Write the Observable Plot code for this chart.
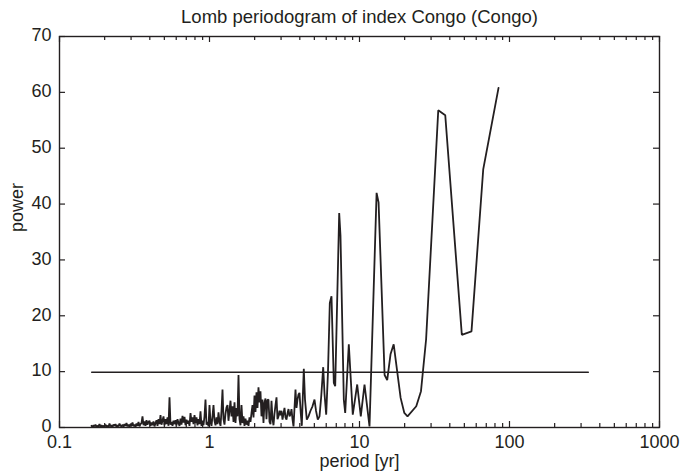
<!DOCTYPE html>
<html><head><meta charset="utf-8">
<script src="https://cdn.jsdelivr.net/npm/d3@7"></script>
<script src="https://cdn.jsdelivr.net/npm/@observablehq/plot@0.6"></script>
<style>body{margin:0;background:#fff}</style>
</head><body><div id="chart"></div>
<script>
const titleText = "Lomb periodogram of index Congo (Congo)";
const xLabel = "period [yr]";
const yLabel = "power";

// periods [yr] of the Lomb periodogram
const periods = [
 0.1634,0.1659,0.1685,0.1711,0.1737,0.1764,0.1791,0.1819,0.1847,0.1876,0.1905,0.1935,0.1965,0.1995,0.2026,0.2057,0.2089,0.2121,0.2154,0.2187,
 0.2221,0.2255,0.2290,0.2326,0.2362,0.2398,0.2435,0.2473,0.2512,0.2551,0.2590,0.2630,0.2671,0.2712,0.2754,0.2797,0.2840,0.2884,0.2929,0.2974,
 0.3020,0.3067,0.3115,0.3162,0.3211,0.3261,0.3311,0.3363,0.3415,0.3467,0.3521,0.3575,0.3631,0.3687,0.3744,0.3802,0.3861,0.3921,0.3981,0.4043,
 0.4105,0.4169,0.4233,0.4299,0.4365,0.4433,0.4501,0.4571,0.4642,0.4714,0.4786,0.4860,0.4936,0.5012,0.5090,0.5168,0.5248,0.5330,0.5412,0.5496,
 0.5581,0.5667,0.5754,0.5843,0.5934,0.6026,0.6119,0.6213,0.6310,0.6407,0.6506,0.6607,0.6709,0.6813,0.6918,0.7025,0.7134,0.7244,0.7356,0.7470,
 0.7586,0.7703,0.7822,0.7943,0.8066,0.8190,0.8317,0.8445,0.8577,0.8709,0.8844,0.8981,0.9120,0.9261,0.9404,0.9550,0.9698,0.9848,1.0000,
 1.0155,1.0312,1.0471,1.0633,1.0798,1.0965,1.1134,1.1307,1.1482,1.1659,1.1840,1.2023,1.2209,1.2397,1.2589,1.2784,1.2982,1.3183,1.3386,1.3594,
 1.3804,1.4017,1.4234,1.4454,1.4678,1.4905,1.5136,1.5370,1.5608,1.5849,1.6094,1.6343,1.6596,1.6853,1.7113,1.7378,1.7647,1.7920,1.8197,1.8478,
 1.8764,1.9055,1.9349,1.9649,1.9953,2.026,2.057,2.089,2.121,2.154,2.187,2.221,2.255,2.290,2.326,2.362,2.398,2.435,2.473,2.512,
 2.551,2.590,2.630,2.671,2.712,2.754,2.797,2.840,2.884,2.929,2.974,3.020,3.067,3.115,3.162,3.211,3.261,3.311,3.363,3.415,
 3.467,3.521,3.575,3.631,3.687,3.744,3.802,3.861,3.921,3.981,
 4.06,4.124,4.253,4.332,4.453,4.571,4.713,4.860,5.012,5.129,5.272,5.412,5.555,5.728,5.845,5.998,6.166,6.339,6.506,6.741,
 6.887,7.322,7.470,7.859,8.030,8.486,9.02,9.654,10.2,10.80,11.66,
 13.0,13.4,14.7,15.3,16.1,16.9,18.8,19.9,20.9,23.9,25.7,27.8,33.5,37.3,48.1,55.8,66.8,84.5
];
const power = [
 0.3,0.1,0.4,0.2,0.5,0.1,0.3,0.2,0.6,0.1,0.4,0.2,0.3,0.1,0.5,0.2,0.3,0.1,0.7,0.2,
 0.4,0.1,0.5,0.3,0.6,0.1,0.4,0.2,0.7,0.3,0.2,0.5,0.1,0.6,0.3,0.8,0.2,0.5,0.1,0.6,
 0.3,0.9,0.2,0.5,0.1,0.7,0.3,1.0,0.2,0.6,0.8,2.0,0.4,1.1,0.3,1.3,0.5,1.0,1.2,0.3,
 0.9,0.4,1.1,0.2,0.8,1.3,0.3,1.5,0.6,2.2,0.5,1.2,2.0,0.4,1.5,0.6,1.8,0.3,5.4,0.5,
 1.0,0.3,1.2,0.6,1.3,0.4,1.5,0.8,0.3,1.6,0.5,2.1,0.9,1.9,0.4,1.4,0.7,1.2,0.3,2.6,
 1.0,1.8,0.6,2.2,0.8,1.8,0.4,1.5,0.6,2.9,0.3,1.2,0.4,2.0,5.0,0.5,1.0,0.2,4.0,
 1.0,0.3,2.0,4.0,1.2,0.4,1.8,0.6,2.7,1.0,0.3,3.0,6.8,1.5,0.5,2.5,3.6,4.0,1.2,3.0,
 4.8,2.0,3.8,1.0,4.5,0.8,3.5,2.0,9.4,1.5,0.4,4.0,0.8,2.0,0.3,1.6,0.5,1.2,0.3,1.8,
 1.0,2.6,4.0,1.8,5.7,2.8,6.3,3.5,7.2,4.5,6.5,2.0,5.0,0.8,4.5,5.2,1.5,4.9,5.0,1.0,
 0.6,4.8,1.5,0.4,2.5,4.0,5.4,1.5,2.0,3.0,2.2,3.0,1.4,2.5,3.5,1.8,1.4,2.5,3.3,2.0,
 2.3,3.3,1.5,0.2,3.5,6.8,3.5,5.0,5.9,6.2,
 2.5,0.3,10.5,5.0,1.4,2.0,3.0,3.8,5.0,3.0,1.4,2.0,5.5,10.8,6.0,2.3,10.0,22.3,23.5,8.0,
 7.4,38.4,34.3,5.0,2.6,14.9,2.3,7.7,2.0,7.7,0.2,
 42.0,40.3,9.4,8.5,13.1,14.9,5.3,2.6,2.0,3.8,6.5,15.8,56.8,55.9,16.6,17.2,46.2,60.8
];

// significance level line
const thresholdPeriods = [0.164, 335];
const thresholdPower = [9.9, 9.9];

const xTicks = [0.1, 1, 10, 100, 1000];
const xTickLabels = ["0.1", "1", "10", "100", "1000"];
const xMinorTicks = [0.2,0.3,0.4,0.5,0.6,0.7,0.8,0.9,2,3,4,5,6,7,8,9,20,30,40,50,60,70,80,90,200,300,400,500,600,700,800,900];
const yTicks = [0, 10, 20, 30, 40, 50, 60, 70];

const W = 681, H = 471;
const mL = 59, mR = 22, mT = 36, mB = 44;
const pw = W - mL - mR, ph = H - mT - mB;
const ink = "#231f20";
const font = "'Liberation Sans', Arial, Helvetica, sans-serif";

const table = periods.map((p, i) => ({period: p, power: power[i]}));
const thr = thresholdPeriods.map((p, i) => ({period: p, power: thresholdPower[i]}));

const chart = Plot.plot({
  width: W, height: H,
  marginLeft: mL, marginRight: mR, marginTop: mT, marginBottom: mB,
  style: {fontFamily: font, background: "#fff", overflow: "visible"},
  x: {type: "log", domain: [0.1, 1000], axis: null},
  y: {domain: [0, 70], axis: null},
  marks: [
    Plot.line(thr, {x: "period", y: "power", stroke: ink, strokeWidth: 1.6}),
    Plot.line(table, {x: "period", y: "power", stroke: ink, strokeWidth: 1.8, strokeLinejoin: "miter"}),
    // inward ticks
    Plot.tickX(xTicks, {x: d => d, stroke: ink, strokeWidth: 1.2, insetTop: ph - 6}),
    Plot.tickX(xTicks, {x: d => d, stroke: ink, strokeWidth: 1.2, insetBottom: ph - 6}),
    Plot.tickX(xMinorTicks, {x: d => d, stroke: ink, strokeWidth: 1.2, insetTop: ph - 4}),
    Plot.tickX(xMinorTicks, {x: d => d, stroke: ink, strokeWidth: 1.2, insetBottom: ph - 4}),
    Plot.tickY(yTicks, {y: d => d, stroke: ink, strokeWidth: 1.2, insetRight: pw - 6}),
    Plot.tickY(yTicks, {y: d => d, stroke: ink, strokeWidth: 1.2, insetLeft: pw - 6}),
    Plot.frame({stroke: ink, strokeWidth: 1.4}),
    // tick labels
    Plot.text(xTicks, {x: d => d, text: (d, i) => xTickLabels[i], frameAnchor: "bottom", lineAnchor: "middle", dy: 15, fontSize: 18, fill: ink}),
    Plot.text(yTicks, {y: d => d, text: d => String(d), frameAnchor: "left", textAnchor: "end", dx: -8, dy: -1, fontSize: 18, fill: ink}),
    // axis labels and title
    Plot.text([xLabel], {text: d => d, frameAnchor: "bottom", lineAnchor: "middle", dy: 34, fontSize: 18, fill: ink}),
    Plot.text([yLabel], {text: d => d, frameAnchor: "left", rotate: -90, dx: -42, fontSize: 18, fill: ink}),
    Plot.text([titleText], {text: d => d, frameAnchor: "top", lineAnchor: "middle", dy: -19, fontSize: 18.5, fill: ink})
  ]
});
document.getElementById("chart").appendChild(chart);
</script>
</body></html>
